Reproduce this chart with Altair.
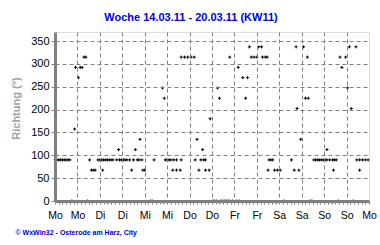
import altair as alt
import pandas as pd

# hours since Monday 14.03.11 00:00, wind direction in degrees
hours = [0, 1, 2, 3, 4, 5, 6, 7, 8,
         9,
         10.5, 11, 12.5, 13.5, 14.5, 15.5, 16.5, 17.5, 18.5,
         19.5, 20.5, 21.5,
         23, 24, 25, 25.5, 26, 27, 28, 29, 30, 31,
         33, 34, 34.5, 35.5, 36.5, 37.5, 38.5, 40, 41, 42, 43, 44, 45, 45.5, 46.5, 47, 48,
         51, 52, 53,
         57.5, 58.5, 59, 60, 61, 62, 63, 63.5, 65, 65, 67, 67.5,
         67.5, 69.3, 71, 72.8, 74.5,
         75, 76, 77, 78, 79, 79.5, 80.5, 80.5, 82.5, 83,
         84.5, 85.5, 86.5, 87, 88, 88.5, 89.5, 90.5, 91.5, 92.5, 93.5, 93.5, 95, 97, 98, 98.5,
         100.5, 102, 103, 104, 105, 106.5, 108, 109, 110.5, 111, 112.5, 113.5,
         114, 114.5, 115.5, 116.5, 117.5, 119, 120.5,
         122.5, 126.5, 128, 129, 129.5, 130.5, 131.5, 133, 134, 135, 135.5, 136.5, 137.5,
         138.5, 139.5, 140.5, 141.5, 142.5, 143.5, 144.5, 145.5, 145.5, 147, 148.5, 149, 149.5, 150.5, 151.5,
         152.5, 153.5, 155.5, 156.5, 157.5, 158.5, 159.5, 161, 161.5, 163, 163, 164.5, 166, 167.5]
direction = [90, 90, 90, 90, 90, 90, 90, 90, 90,
             0,
             157.5, 292.5, 270, 292.5, 292.5, 315, 315, 0, 90,
             67.5, 67.5, 67.5,
             90, 90, 90, 67.5, 90, 90, 90, 90, 90, 90,
             90, 112.5, 90, 90, 90, 90, 90, 90, 67.5, 90, 112.5, 90, 90, 135, 90, 67.5, 67.5,
             0, 0, 90,
             247.5, 225, 90, 90, 90, 90, 67.5, 90, 90, 67.5, 67.5, 90,
             315, 315, 315, 315, 315,
             90, 135, 67.5, 90, 112.5, 90, 90, 67.5, 67.5, 180,
             0, 0, 0, 247.5, 225, 0, 0, 0, 0, 0, 315, 0, 0, 0, 292.5, 0,
             270, 225, 270, 337.5, 315, 315, 315, 337.5, 337.5, 315, 315, 315,
             67.5, 90, 90, 90, 67.5, 67.5, 67.5,
             0, 90, 67.5, 337.5, 202.5, 67.5, 135, 337.5, 225, 315, 225, 0, 0,
             90, 90, 90, 90, 90, 90, 90, 90, 112.5, 90, 90, 67.5, 90, 90, 0,
             315, 292.5, 315, 247.5, 337.5, 202.5, 0, 337.5, 90, 67.5, 90, 90, 90, 90]

day_labels = ["Mo", "Di", "Mi", "Do", "Fr", "Sa", "So", "Mo"]
y_ticks = [0, 50, 100, 150, 200, 250, 300, 350]
x_ticks = list(range(0, 169, 2))

df = pd.DataFrame({"h": hours, "dir": direction})

label_expr = ("datum.value % 12 === 0 ? " + str(day_labels) +
              "[floor(datum.value / 24)] : ''")

chart = alt.Chart(df).mark_point(
    shape="M-1,0L1,0M0,-1L0,1", size=9, filled=False,
    color="black", strokeWidth=1, opacity=1, clip=False
).encode(
    x=alt.X("h:Q", scale=alt.Scale(domain=[0, 168], nice=False, zero=False),
            axis=alt.Axis(values=x_ticks, labelExpr=label_expr,
                          title="© WxWin32  -  Osterode am Harz, City",
                          titleColor="#0000E0", titleFont="Liberation Sans",
                          titleFontSize=7, titleFontWeight="bold",
                          titleX=-40, titleY=34, titleAlign="left",
                          titleAnchor="start", titleBaseline="bottom",
                          labelFont="Liberation Sans", labelFontSize=10.5,
                          labelColor="black", labelPadding=6,
                          labelOverlap=False, labelBound=False, labelFlush=False,
                          tickSize=3, tickColor="#808080",
                          domainColor="#808080", domainWidth=3,
                          gridColor="#808080", gridDash=[4, 3],
                          gridOpacity={"condition": {"test": "datum.value % 12 === 0 && datum.value > 0 && datum.value < 168", "value": 1}, "value": 0},
                          zindex=1)),
    y=alt.Y("dir:Q", scale=alt.Scale(domain=[0, 370], nice=False),
            axis=alt.Axis(values=y_ticks, title="Richtung  (°)",
                          titleColor="#A0A0A0", titleFont="Liberation Sans",
                          titleFontSize=11, titleFontWeight="bold",
                          titleX=-34, titleY=76, titleAngle=-90,
                          labelFont="Liberation Sans", labelFontSize=11,
                          labelColor="black", labelPadding=2,
                          tickSize=4, tickColor="#808080",
                          domainColor="#808080", domainWidth=3,
                          gridColor="#808080", gridDash=[4, 3],
                          zindex=1))
).properties(
    width=314, height=169,
    title=alt.TitleParams("Woche 14.03.11 - 20.03.11 (KW11)",
                          color="#0000E0", font="Liberation Sans",
                          fontSize=11, fontWeight="bold",
                          anchor="middle", dx=-21, offset=0,
                          baseline="alphabetic"),
    autosize=alt.AutoSizeParams(type="none"),
    padding={"left": 55, "top": 32, "right": 11, "bottom": 44}
).configure_view(
    stroke="black", strokeWidth=1
).configure(background="white")

chart.save("out.html", embed_options={"renderer": "svg", "actions": False})
